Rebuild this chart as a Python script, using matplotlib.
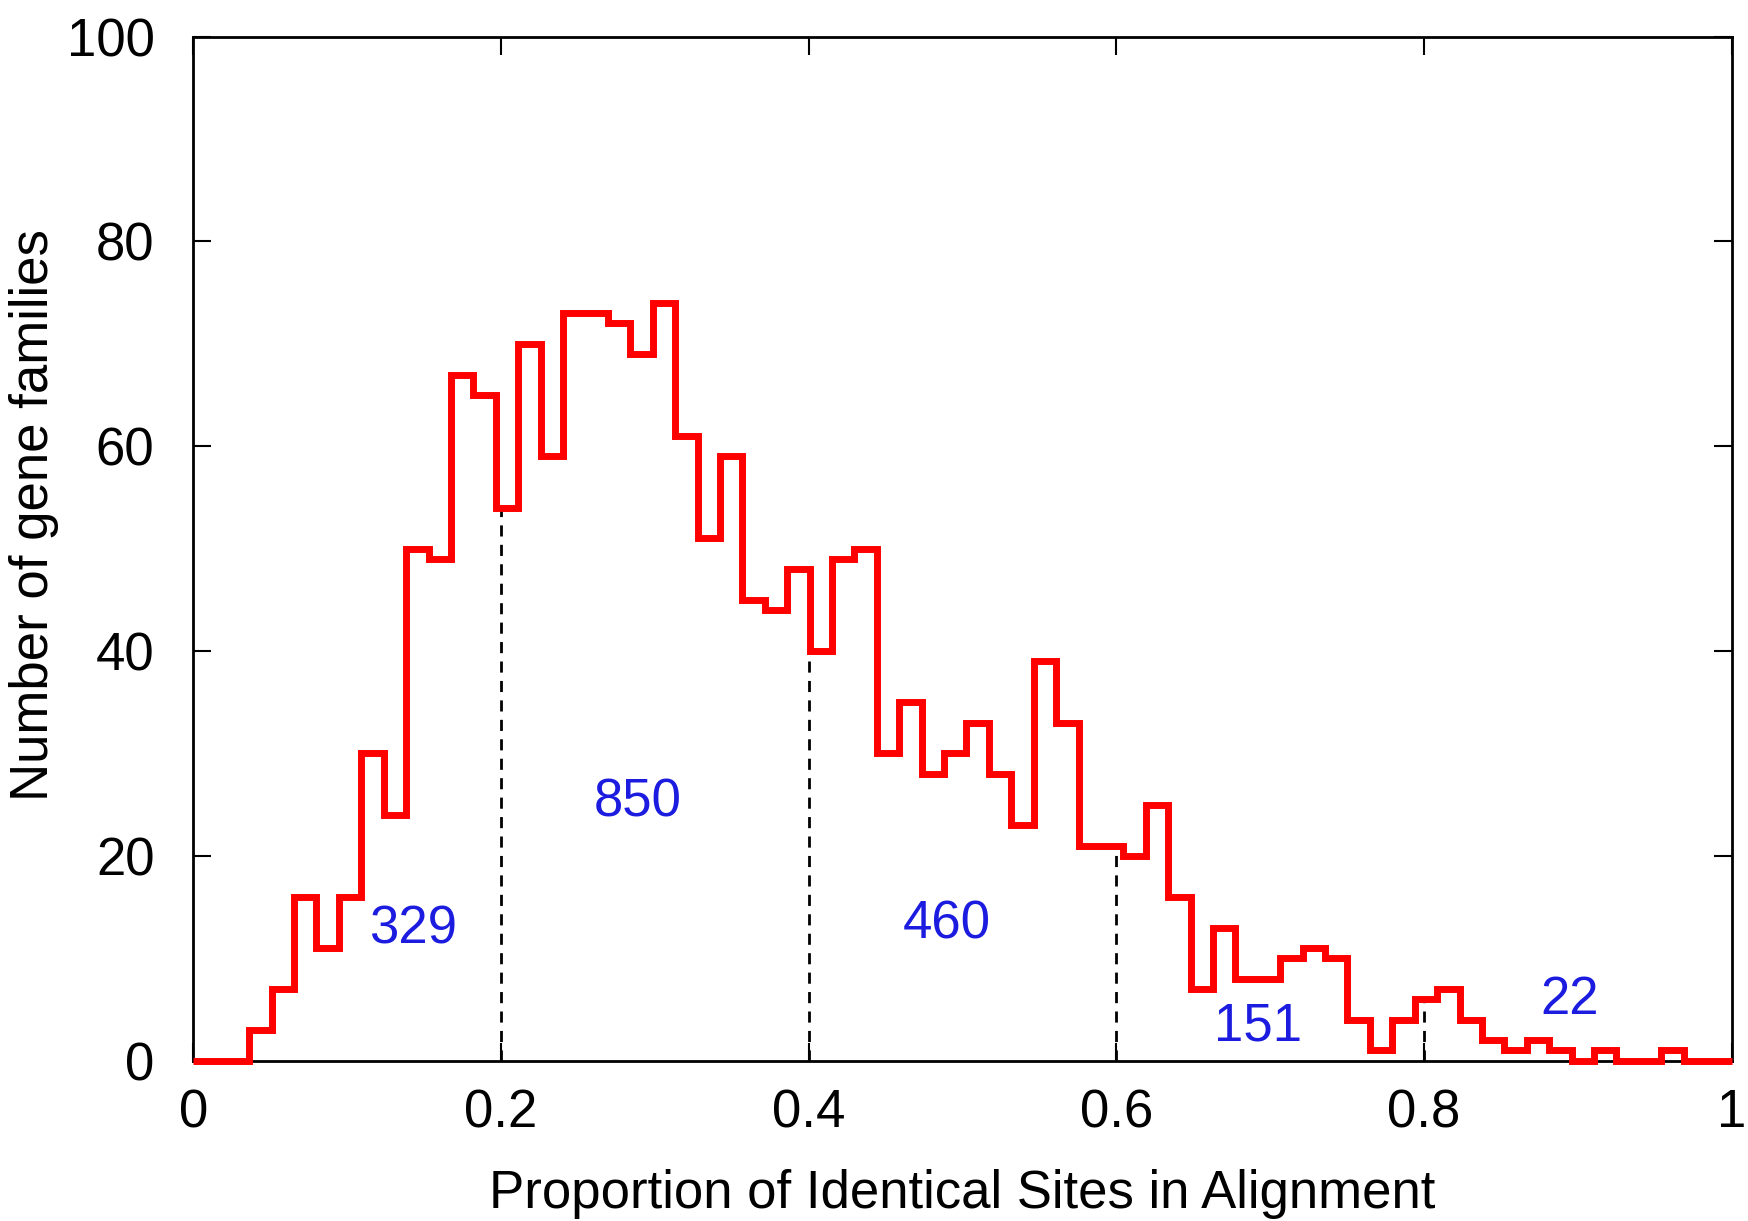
import numpy as np
import matplotlib
matplotlib.use("Agg")
import matplotlib.pyplot as plt

plt.rcParams['font.family'] = ['Liberation Sans', 'DejaVu Sans']

# histogram counts (one per bin, bins of equal width starting at first_edge)
counts = [3, 7, 16, 11, 16, 30, 24, 50, 49, 67, 65, 54, 70, 59, 73, 73, 72, 69, 74, 61,
          51, 59, 45, 44, 48, 40, 49, 50, 30, 35, 28, 30, 33, 28, 23, 39, 33, 21, 21, 20,
          25, 16, 7, 13, 8, 8, 10, 11, 10, 4, 1, 4, 6, 7, 4, 2, 1, 2, 1, 0,
          1, 0, 0, 1]
first_edge = 0.0364
bin_width = 0.01457

cut_points = [0.2, 0.4, 0.6, 0.8]
group_labels = ["329", "850", "460", "151", "22"]
label_x = [0.143, 0.289, 0.490, 0.692, 0.895]
label_y = [12.8, 25.2, 13.3, 3.3, 5.9]

edges = first_edge + bin_width * np.arange(len(counts) + 1)
all_edges = np.concatenate([[0.0], edges, [1.0]])
all_counts = np.concatenate([[0], counts, [0]])

fig = plt.figure(figsize=(17.49, 12.21), dpi=100)
ax = fig.add_axes([0.1105, 0.1313, 0.8795, 0.8387])

ax.stairs(all_counts, all_edges, color="#ff0000", linewidth=5, baseline=None,
          clip_on=False, zorder=3)

# dashed separators up to the histogram height
for c in cut_points:
    idx = np.searchsorted(all_edges, c, side="right") - 1
    ax.plot([c, c], [0, all_counts[idx]], color="black", linestyle=(0, (4, 3)),
            linewidth=2, zorder=2)

for t, x, y in zip(group_labels, label_x, label_y):
    ax.text(x, y, t, color="#1c1ce0", fontsize=38, ha="center", va="center")

ax.set_xlim(0, 1)
ax.set_ylim(0, 100)
ax.set_xticks([0, 0.2, 0.4, 0.6, 0.8, 1])
ax.set_xticklabels(["0", "0.2", "0.4", "0.6", "0.8", "1"])
ax.set_yticks([0, 20, 40, 60, 80, 100])
ax.tick_params(direction="in", length=13, width=1.5, labelsize=38,
               top=True, right=True)
ax.tick_params(axis="x", pad=20)
ax.tick_params(axis="y", pad=28)
for s in ax.spines.values():
    s.set_linewidth(2)

ax.set_xlabel("Proportion of Identical Sites in Alignment", fontsize=38, labelpad=22)
ax.set_ylabel("Number of gene families", fontsize=38)
ax.yaxis.set_label_coords(-0.087, 0.533)

fig.savefig("out.png", dpi=100)
